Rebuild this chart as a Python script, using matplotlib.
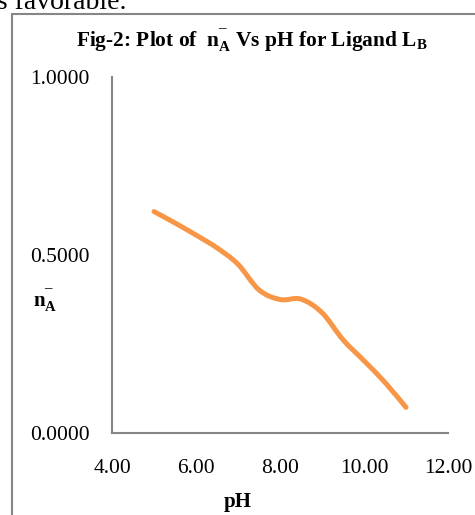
import numpy as np
import matplotlib
matplotlib.use("Agg")
import matplotlib.pyplot as plt
from matplotlib.path import Path
from matplotlib.patches import PathPatch, Rectangle

# values
ph = [5.0, 5.5, 6.0, 6.5, 7.0, 7.5, 8.0, 8.5, 9.0, 9.5, 10.0, 10.5, 11.0]
n_a = [0.622, 0.590, 0.556, 0.520, 0.474, 0.402, 0.375, 0.376, 0.338, 0.262, 0.203, 0.142, 0.072]
x_ticks = [4, 6, 8, 10, 12]
y_ticks = [0.0, 0.5, 1.0]

plt.rcParams['font.family'] = ['Liberation Serif', 'DejaVu Serif']
plt.rcParams['mathtext.fontset'] = 'custom'
plt.rcParams['mathtext.rm'] = 'Liberation Serif'
plt.rcParams['mathtext.bf'] = 'Liberation Serif:bold'
plt.rcParams['mathtext.it'] = 'Liberation Serif:italic'

W, H = 475, 515
fig = plt.figure(figsize=(W / 100, H / 100), dpi=100)

# frame of the embedded chart (clipped on right/bottom)
fig.add_artist(Rectangle((12 / W, -0.1), 1.2, 1.1 - 14 / H, transform=fig.transFigure,
                         fill=False, edgecolor='#868686', linewidth=1.5))
# tail of the body text above the chart
fig.text(-11 / W, 1 - 9 / H, "is favorable.", fontsize=20, ha='left', va='baseline')

ax = fig.add_axes([112 / W, 1 - 433 / H, (448 - 112) / W, (433 - 77) / H])
ax.set_xlim(4, 12)
ax.set_ylim(0, 1)

# smoothed line like Excel: Catmull-Rom segments as cubic Beziers
pts = np.column_stack([ph, n_a])
ext = np.vstack([pts[0], pts, pts[-1]])
verts = [tuple(pts[0])]
codes = [Path.MOVETO]
for i in range(1, len(ext) - 2):
    p0, p1, p2, p3 = ext[i - 1], ext[i], ext[i + 1], ext[i + 2]
    c1 = p1 + (p2 - p0) / 6
    c2 = p2 - (p3 - p1) / 6
    verts += [tuple(c1), tuple(c2), tuple(p2)]
    codes += [Path.CURVE4] * 3
ax.add_patch(PathPatch(Path(verts, codes), fill=False, edgecolor='#F79646',
                       linewidth=3.6, capstyle='round', joinstyle='round'))

for s in ['top', 'right']:
    ax.spines[s].set_visible(False)
for s in ['left', 'bottom']:
    ax.spines[s].set_color('#868686')
    ax.spines[s].set_linewidth(1.5)

ax.set_xticks(x_ticks)
ax.set_xticklabels([f"{v:.2f}" for v in x_ticks])
ax.set_yticks(y_ticks)
ax.set_yticklabels([f"{v:.4f}" for v in y_ticks])
ax.tick_params(axis='x', length=0, pad=19, labelsize=15.5)
ax.tick_params(axis='y', length=0, pad=16, labelsize=15.5)

MAC = "\u00af"
nbar = r"$\mathbf{n}^{\mathbf{" + MAC + r"}}_{\mathbf{A}}$"
fig.text(252 / W, 1 - 47 / H,
         "Fig-2: Plot of  " + nbar + r" Vs pH for Ligand L$_{\mathbf{B}}$",
         fontsize=15.4, fontweight='bold', ha='center', va='baseline')
fig.text(238 / W, 1 - 507 / H, "pH", fontsize=15, fontweight='bold', ha='center', va='baseline')
fig.text(33 / W, 1 - 307 / H, nbar, fontsize=15, ha='left', va='baseline')

fig.savefig("out.png", dpi=100)
